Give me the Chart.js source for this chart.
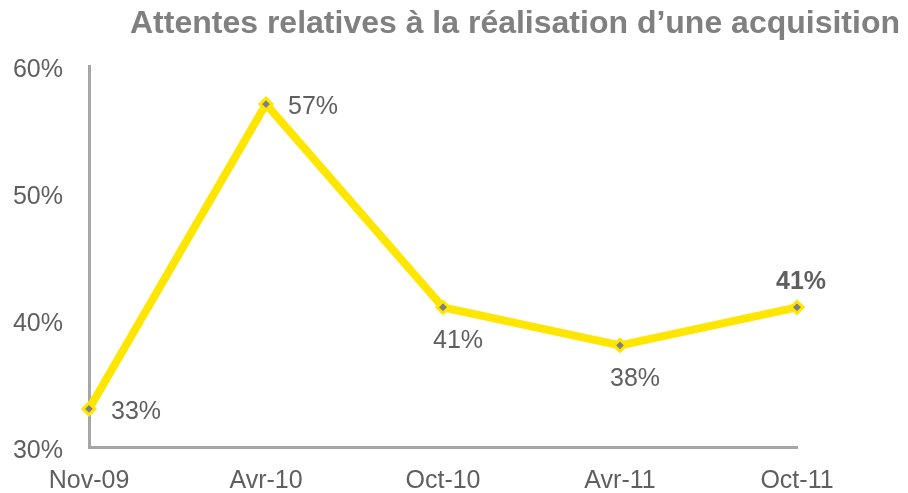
<html>
<head>
    <meta name="viewport" content="width=device-width">
    <script src="https://cdn.jsdelivr.net/npm/chart.js@4.4.1/dist/chart.umd.min.js"></script>
    <style>
        *{padding:0; margin:0; background-color: #fff;}
        #wrap{width:908px; height:493px; position:relative;}
    </style>
</head>
<body>
    <div id="wrap"><canvas id="chart"></canvas></div>
    <script>
        var title = "Attentes relatives à la réalisation d\u2019une acquisition";
        var periods = ["Nov-09", "Avr-10", "Oct-10", "Avr-11", "Oct-11"];
        var values = [33, 57, 41, 38, 41];
        var yTicks = [30, 40, 50, 60];
        // where each value label sits next to its point
        var labelPos = ["right", "right", "below", "below", "above"];

        var grey = "#5f5f5f";
        var font = "'Liberation Sans', Arial, sans-serif";

        var labelPlugin = {
            id: "pointLabels",
            afterDatasetsDraw: function(chart) {
                var c = chart.ctx;
                var pts = chart.getDatasetMeta(0).data;
                c.save();
                c.fillStyle = grey;
                c.textBaseline = "middle";
                pts.forEach(function(p, i) {
                    var txt = values[i] + "%";
                    var pos = labelPos[i];
                    var last = i === values.length - 1;
                    c.font = (last ? "bold " : "") + "25px " + font;
                    if (pos === "right") {
                        c.textAlign = "left";
                        c.fillText(txt, p.x + 22, p.y + 3);
                    } else if (pos === "below") {
                        c.textAlign = "center";
                        c.fillText(txt, p.x + 15, p.y + 34);
                    } else {
                        c.textAlign = "center";
                        c.fillText(txt, p.x + 4, p.y - 25);
                    }
                });
                c.restore();
            }
        };

        var titlePlugin = {
            id: "rightTitle",
            afterDraw: function(chart) {
                var c = chart.ctx;
                c.save();
                c.fillStyle = "#808080";
                c.font = "bold 32px " + font;
                c.textAlign = "right";
                c.textBaseline = "alphabetic";
                c.fillText(title, 900, 33);
                c.restore();
            }
        };

        var config = {
            type: "line",
            data: {
                labels: periods,
                datasets: [{
                    data: values,
                    borderColor: "#FFE600",
                    borderWidth: 8,
                    pointStyle: "rectRot",
                    pointRadius: 6,
                    pointBackgroundColor: "#7f7f7f",
                    pointBorderColor: "#FFE600",
                    pointBorderWidth: 3,
                    tension: 0,
                    clip: false
                }]
            },
            options: {
                responsive: true,
                maintainAspectRatio: false,
                animation: false,
                layout: { padding: { top: 66, right: 111, left: 0, bottom: 0 } },
                plugins: {
                    legend: { display: false },
                    tooltip: { enabled: false }
                },
                scales: {
                    x: {
                        offset: false,
                        grid: { display: false, drawTicks: false },
                        border: { display: true, color: "#a6a6a6", width: 3 },
                        ticks: { color: grey, font: { family: font, size: 25 }, padding: 19, maxRotation: 0 },
                        afterFit: function(s) { s.height = 46; }
                    },
                    y: {
                        min: 30,
                        max: 60,
                        afterBuildTicks: function(s) { s.ticks = yTicks.map(function(v) { return { value: v }; }); },
                        grid: { display: false, drawTicks: false },
                        border: { display: true, color: "#a6a6a6", width: 3 },
                        ticks: {
                            color: grey,
                            font: { family: font, size: 25 },
                            padding: 26,
                            labelOffset: 4,
                            callback: function(v) { return v + "%"; }
                        },
                        afterFit: function(s) { s.width = 89; }
                    }
                }
            },
            plugins: [labelPlugin, titlePlugin]
        };

        var chart = new Chart(document.getElementById("chart").getContext("2d"), config);
    </script>
</body>
</html>
